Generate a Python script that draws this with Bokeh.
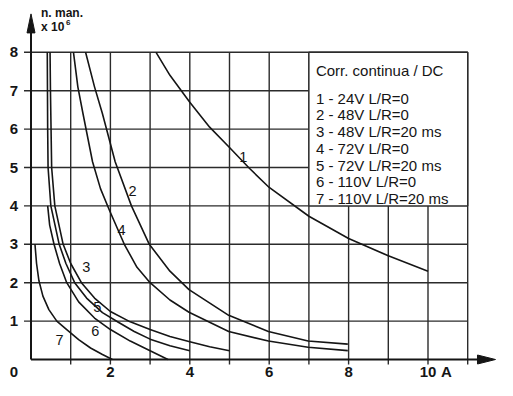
from bokeh.plotting import figure
from bokeh.models import Range1d
from bokeh.core.properties import value
from bokeh.embed import file_html
from bokeh.resources import INLINE

# ---------------- data ----------------
x_grid = [1, 2, 3, 4, 5, 6, 7, 8, 9, 10, 11]
y_grid = [1, 2, 3, 4, 5, 6, 7, 8]
x_tick_vals = [2, 4, 6, 8, 10]
x_tick_labels = ["2", "4", "6", "8", "10"]
y_tick_vals = [1, 2, 3, 4, 5, 6, 7, 8]
y_tick_labels = ["1", "2", "3", "4", "5", "6", "7", "8"]
x_unit = "A"
y_title = "n. man."
y_scale_txt = "x 10"
y_scale_exp = "6"

c1_x = [3.15, 3.5, 4.0, 4.5, 5.0, 5.5, 6.0, 7.0, 8.0, 9.0, 10.0]
c1_y = [8.0, 7.4, 6.7, 6.05, 5.52, 4.98, 4.48, 3.73, 3.15, 2.7, 2.3]
c2_x = [1.375, 1.6, 1.8, 2.12, 2.53, 2.98, 3.5, 3.98, 4.98, 5.98, 6.98, 7.98]
c2_y = [8.0, 7.1, 6.4, 5.15, 4.0, 3.0, 2.3, 1.82, 1.15, 0.73, 0.48, 0.4]
c3_x = [0.48, 0.49, 0.505, 0.52, 0.6, 0.81, 1.0, 1.27, 1.6, 2.0, 2.5, 3.0, 3.5, 4.0, 4.5, 5.0]
c3_y = [8.0, 7.0, 6.0, 5.0, 4.0, 3.0, 2.5, 2.0, 1.6, 1.25, 0.98, 0.78, 0.6, 0.46, 0.33, 0.23]
c4_x = [1.07, 1.18, 1.31, 1.55, 1.75, 1.97, 2.35, 2.67, 3.0, 3.5, 3.98, 4.98, 5.98, 6.98, 7.98]
c4_y = [8.0, 7.1, 6.4, 5.15, 4.45, 3.9, 3.0, 2.4, 2.0, 1.55, 1.23, 0.73, 0.48, 0.32, 0.23]
c5_x = [0.41, 0.415, 0.42, 0.43, 0.5, 0.71, 0.88, 1.1, 1.4, 1.8, 2.2, 2.6, 3.0, 3.5, 4.0]
c5_y = [8.0, 7.0, 6.0, 5.0, 4.0, 3.0, 2.5, 2.0, 1.6, 1.22, 0.97, 0.73, 0.53, 0.36, 0.23]
c6_x = [0.42, 0.47, 0.58, 0.72, 0.9, 1.2, 1.6, 2.0, 2.5, 3.0, 3.45]
c6_y = [4.0, 3.5, 3.0, 2.5, 2.0, 1.5, 1.08, 0.78, 0.48, 0.23, 0.0]
c7_x = [0.1, 0.14, 0.2, 0.3, 0.45, 0.65, 0.9, 1.2, 1.5, 1.8, 2.05]
c7_y = [3.0, 2.5, 2.05, 1.65, 1.3, 1.0, 0.78, 0.52, 0.3, 0.13, 0.0]

curve_names = ["1", "2", "3", "4", "5", "6", "7"]
curve_xs = [c1_x, c2_x, c3_x, c4_x, c5_x, c6_x, c7_x]
curve_ys = [c1_y, c2_y, c3_y, c4_y, c5_y, c6_y, c7_y]
label_x = [5.35, 2.56, 1.39, 2.28, 1.67, 1.62, 0.72]
label_y = [5.28, 4.38, 2.40, 3.36, 1.36, 0.75, 0.52]

legend_title = "Corr. continua / DC"
legend_lines = ["1 - 24V L/R=0", "2 - 48V L/R=0", "3 - 48V L/R=20 ms",
                "4 - 72V L/R=0", "5 - 72V L/R=20 ms", "6 - 110V L/R=0",
                "7 - 110V L/R=20 ms"]

# ---------------- layout constants ----------------
W, H = 497, 380
PX_X, PX_Y = 39.7, 38.4
X0_PX, Y0_PX = 30.5, 359.0
GRID_XMAX, GRID_YMAX = 11, 8
X_TIP, Y_TIP = 11.7, 9.0
BOX_L, BOX_R, BOX_B, BOX_T = 7, 11, 4, 8
INK = "#151515"
GRID = "#2b2b2b"
FONT = value("Liberation Sans")

p = figure(width=W, height=H,
           x_range=Range1d(-X0_PX / PX_X, (W - X0_PX) / PX_X),
           y_range=Range1d(-(H - Y0_PX) / PX_Y, Y0_PX / PX_Y),
           x_axis_type=None, y_axis_type=None,
           output_backend="svg", toolbar_location=None, min_border=0)
p.grid.visible = False
p.outline_line_color = None
p.background_fill_color = "white"
p.border_fill_color = "white"

# grid (with outward ticks)
tick_down = 5 / PX_Y
tick_left = 7 / PX_X
p.segment(x0=x_grid, y0=[-tick_down] * len(x_grid), x1=x_grid, y1=[GRID_YMAX] * len(x_grid),
          line_color=GRID, line_width=1.4)
p.segment(x0=[-tick_left] * len(y_grid), y0=y_grid, x1=[GRID_XMAX] * len(y_grid), y1=y_grid,
          line_color=GRID, line_width=1.4)

# legend box
p.quad(left=BOX_L, right=BOX_R, bottom=BOX_B, top=BOX_T,
       fill_color="white", line_color=GRID, line_width=1.4)

# axes with arrows
head_len_x, head_hw_x = 18 / PX_X, 4.5 / PX_Y
head_len_y, head_hw_y = 19 / PX_Y, 4.0 / PX_X
p.line([0, X_TIP - head_len_x], [0, 0], line_color=INK, line_width=2)
p.line([0, 0], [0, Y_TIP - head_len_y], line_color=INK, line_width=2)
p.patch([X_TIP, X_TIP - head_len_x, X_TIP - head_len_x], [0, head_hw_x, -head_hw_x],
        fill_color=INK, line_color=INK)
p.patch([0, head_hw_y, -head_hw_y], [Y_TIP, Y_TIP - head_len_y, Y_TIP - head_len_y],
        fill_color=INK, line_color=INK)

# curves
for xs, ys in zip(curve_xs, curve_ys):
    p.line(xs, ys, line_color=INK, line_width=1.6, line_join="round")

# curve labels
p.text(x=label_x, y=label_y, text=curve_names, text_font=FONT, text_font_size="14.5px",
       text_align="center", text_baseline="middle", text_color=INK)

# tick labels
lab_off_y = -12 / PX_Y
lab_off_x = -17 / PX_X
tick_style = dict(text_font=FONT, text_font_size="15px", text_font_style="bold",
                  text_baseline="middle", text_color=INK)
p.text(x=x_tick_vals, y=[lab_off_y] * len(x_tick_vals), text=x_tick_labels,
       text_align="center", **tick_style)
p.text(x=[lab_off_x] * len(y_tick_vals), y=y_tick_vals, text=y_tick_labels,
       text_align="center", **tick_style)
p.text(x=[lab_off_x], y=[lab_off_y], text=["0"], text_align="center", **tick_style)
p.text(x=[x_tick_vals[-1] + 13 / PX_X], y=[lab_off_y], text=[x_unit],
       text_align="left", **tick_style)

# y-axis title
title_style = dict(text_font=FONT, text_font_size="12px", text_font_style="bold",
                   text_align="left", text_baseline="middle", text_color=INK)
p.text(x=[10 / PX_X], y=[Y_TIP + 1 / PX_Y], text=[y_title], **title_style)
p.text(x=[10 / PX_X], y=[Y_TIP - 13 / PX_Y], text=[y_scale_txt], **title_style)
p.text(x=[(10 + 25) / PX_X], y=[Y_TIP - 9 / PX_Y], text=[y_scale_exp], text_font=FONT,
       text_font_size="8px", text_font_style="bold", text_align="left",
       text_baseline="middle", text_color=INK)

# legend text
leg_x = BOX_L + 7 / PX_X
title_y = BOX_T - 18 / PX_Y
p.text(x=[leg_x], y=[title_y], text=[legend_title], text_font=FONT, text_font_size="15px",
       text_align="left", text_baseline="middle", text_color=INK)
first_y = BOX_T - 45.7 / PX_Y
step = 16.75 / PX_Y
p.text(x=[leg_x] * len(legend_lines), y=[first_y - i * step for i in range(len(legend_lines))],
       text=legend_lines, text_font=FONT, text_font_size="15px",
       text_align="left", text_baseline="middle", text_color=INK)

open("out.html", "w").write(file_html(p, INLINE))
